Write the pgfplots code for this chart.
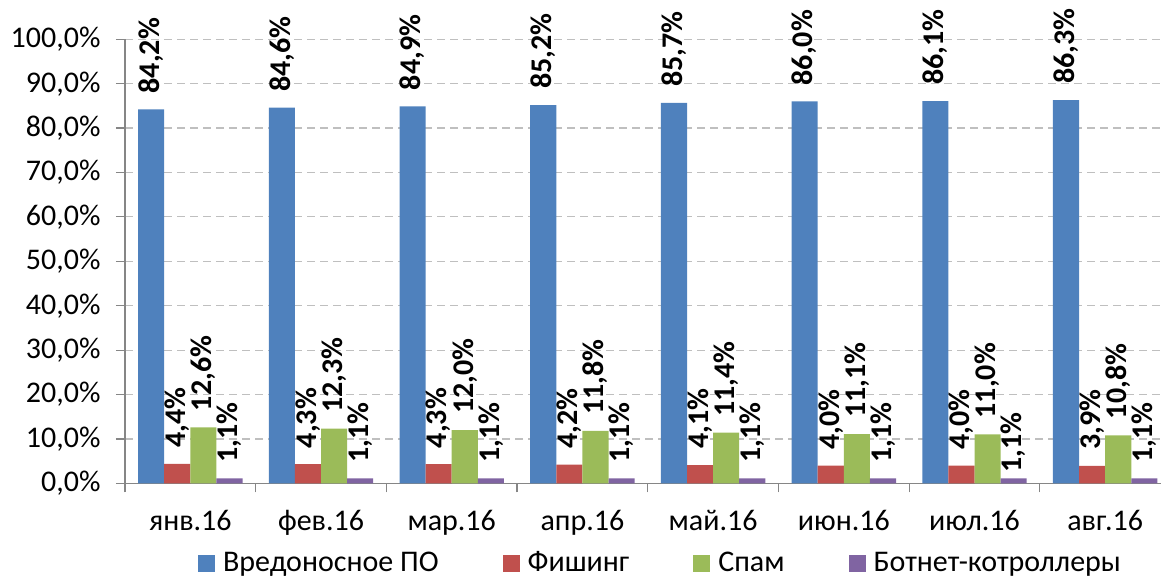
\documentclass[border=0pt]{standalone}
\usepackage{fontspec}
\setmainfont{Carlito}
\usepackage{pgfplots}
\pgfplotsset{compat=1.18}
\usetikzlibrary{calc}
\definecolor{cblue}{HTML}{4F81BD}
\definecolor{cred}{HTML}{C0504D}
\definecolor{cgreen}{HTML}{9BBB59}
\definecolor{cpurple}{HTML}{8064A2}
\definecolor{axgray}{HTML}{868686}
\definecolor{gridgray}{HTML}{BFBFBF}
\newcommand{\bigf}{\fontsize{30}{36}\selectfont}
\begin{document}
\begin{tikzpicture}
\begin{axis}[
  name=ax, at={(0,0)}, anchor=south west,
  width=1036pt, height=444pt, scale only axis,
  ybar=0pt, bar width=26.1pt,
  xmin=-0.5, xmax=7.427, ymin=0, ymax=100,
  enlargelimits=false, clip=false,
  axis lines*=left,
  axis line style={color=axgray, line width=1.2pt},
  tick align=outside, major tick length=9pt, minor tick length=9pt,
  tick style={color=axgray, line width=1.2pt},
  xtick={0,...,7},
  xticklabels={янв.16,фев.16,мар.16,апр.16,май.16,июн.16,июл.16,авг.16},
  minor xtick={-0.5,0.5,...,6.5},
  every major x tick/.append style={draw=none},
  ytick={0,10,...,100},
  ymajorgrids,
  grid style={color=gridgray, dash pattern=on 8pt off 5pt, line width=1.2pt},
  /pgf/number format/assume math mode=true,
  yticklabel={\pgfmathprintnumber[fixed,fixed zerofill,precision=1,use comma]{\tick}\%},
  yticklabel style={font=\bigf, xshift=-12pt},
  xticklabel style={font=\bigf, anchor=base, yshift=-38pt},
  nodes near coords={\pgfmathprintnumber[fixed,fixed zerofill,precision=1,use comma]{\pgfplotspointmeta}\%},
  every node near coord/.append style={font=\bigf\bfseries, rotate=90, anchor=west, inner xsep=16pt, inner ysep=0pt},
  legend columns=4,
  legend style={at={(axis description cs:0.516,-0.178)}, anchor=center, draw=none, font=\bigf,
    cells={anchor=base},
    /tikz/every even column/.append style={column sep=64pt},
    /tikz/every odd column/.append style={column sep=8pt},
    nodes={inner sep=0pt}},
  legend image code/.code={\fill[#1] (0pt,0pt) rectangle (17pt,16.5pt);},
]
\addplot[fill=cblue, draw=none] coordinates {(0,84.2) (1,84.6) (2,84.9) (3,85.2) (4,85.7) (5,86.0) (6,86.1) (7,86.3)};
\addplot[fill=cred, draw=none] coordinates {(0,4.4) (1,4.3) (2,4.3) (3,4.2) (4,4.1) (5,4.0) (6,4.0) (7,3.9)};
\addplot[fill=cgreen, draw=none] coordinates {(0,12.6) (1,12.3) (2,12.0) (3,11.8) (4,11.4) (5,11.1) (6,11.0) (7,10.8)};
\addplot[fill=cpurple, draw=none,
  visualization depends on={\thisrow{sep} \as \labsep},
  every node near coord/.append style={inner xsep=\labsep pt}] table {
x y sep
0 1.1 16
1 1.1 16
2 1.1 16
3 1.1 16
4 1.1 16
5 1.1 16
6 1.1 6
7 1.1 16
};
\legend{Вредоносное ПО,Фишинг,Спам,Ботнет-котроллеры}
\end{axis}
\pgfresetboundingbox
\path[use as bounding box] ($(ax.south west)+(-125pt,-94.7pt)$) rectangle ($(ax.south west)+(1036pt,483.3pt)$);
\end{tikzpicture}
\end{document}
